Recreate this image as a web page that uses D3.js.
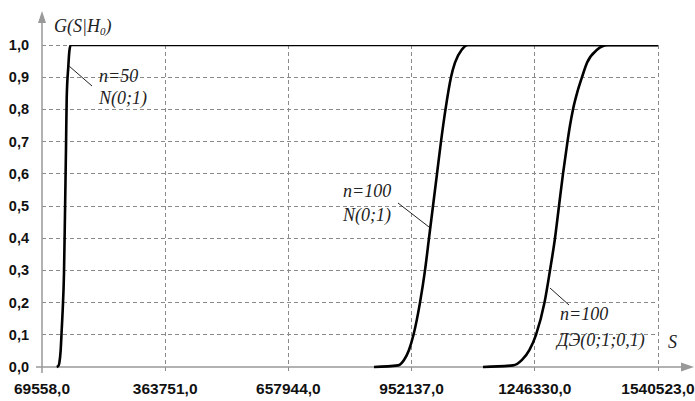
<!DOCTYPE html>
<html>
<head>
<meta charset="utf-8">
<script src="https://cdn.jsdelivr.net/npm/d3@7"></script>
<style>
  html, body { margin: 0; padding: 0; background: #fff; }
  svg { display: block; }
</style>
</head>
<body>
<svg id="chart" width="695" height="401"></svg>
<script>
// ---- data ----
const xTicks = [69558, 363751, 657944, 952137, 1246330, 1540523];
const yTicks = [0, 0.1, 0.2, 0.3, 0.4, 0.5, 0.6, 0.7, 0.8, 0.9, 1.0];

// n=50, N(0;1)
const sN50  = [104660, 108481, 110869, 114212, 116600, 118988, 122092, 124480, 126868, 128540, 132360, 134748, 138091, 1540523];
const gN50  = [0, 0.003, 0.012, 0.053, 0.115, 0.177, 0.292, 0.478, 0.68, 0.835, 0.933, 0.979, 1.0, 1.0];

// n=100, N(0;1)
const sN100 = [862341, 919650, 933978, 945917, 956663, 972184, 984124, 993675, 1003227, 1012779, 1022330, 1033076, 1046209, 1055761, 1071760, 1086803, 1540523];
const gN100 = [0, 0.005, 0.022, 0.053, 0.1, 0.2, 0.3, 0.4, 0.5, 0.6, 0.7, 0.8, 0.9, 0.945, 0.985, 1.0, 1.0];

// n=100, ДЭ(0;1;0,1)
const sDE   = [1122622, 1194259, 1215750, 1233659, 1249181, 1269478, 1282611, 1294551, 1304102, 1313654, 1324399, 1330369, 1337533, 1347085, 1359024, 1370963, 1394842, 1421109, 1540523];
const gDE   = [0, 0.005, 0.022, 0.053, 0.1, 0.2, 0.3, 0.4, 0.5, 0.6, 0.7, 0.75, 0.8, 0.85, 0.9, 0.945, 0.985, 1.0, 1.0];

const series = [
  { s: sN50,  g: gN50,  l1: "n=50",  l2: "N(0;1)" },
  { s: sN100, g: gN100, l1: "n=100", l2: "N(0;1)" },
  { s: sDE,   g: gDE,   l1: "n=100", l2: "ДЭ(0;1;0,1)" }
];

// ---- layout ----
const svg = d3.select("#chart");
const x = d3.scaleLinear().domain([69558, 1540523]).range([42, 658]);
const y = d3.scaleLinear().domain([0, 1]).range([367, 45]);

const gridColor = "#8a8a8a";
const axisColor = "#999";

svg.append("defs").append("clipPath").attr("id", "plotclip")
  .append("rect").attr("x", 40).attr("y", 45).attr("width", 620).attr("height", 330);

// horizontal grid
svg.append("g").selectAll("line").data(yTicks.filter(d => d > 0)).join("line")
  .attr("x1", x(xTicks[0])).attr("x2", x(xTicks[xTicks.length - 1]))
  .attr("y1", d => y(d)).attr("y2", d => y(d))
  .attr("stroke", gridColor).attr("stroke-width", 1)
  .attr("stroke-dasharray", "4,3")
  .attr("shape-rendering", "crispEdges");

// vertical grid
svg.append("g").selectAll("line").data(xTicks.slice(1)).join("line")
  .attr("x1", d => x(d)).attr("x2", d => x(d))
  .attr("y1", y(1)).attr("y2", y(0) + 6)
  .attr("stroke", gridColor).attr("stroke-width", 1)
  .attr("stroke-dasharray", "4,3")
  .attr("shape-rendering", "crispEdges");

// axes
svg.append("line").attr("x1", x(xTicks[0])).attr("x2", x(xTicks[0]))
  .attr("y1", y(0) + 6).attr("y2", 20)
  .attr("stroke", axisColor).attr("stroke-width", 1.5);
svg.append("path").attr("d", `M${x(xTicks[0])},11 L${x(xTicks[0]) - 4},23 L${x(xTicks[0]) + 4},23 Z`)
  .attr("fill", axisColor);
svg.append("line").attr("x1", 36).attr("x2", 684)
  .attr("y1", y(0)).attr("y2", y(0))
  .attr("stroke", axisColor).attr("stroke-width", 1.5);
svg.append("path").attr("d", `M694,${y(0)} L681,${y(0) - 4.5} L681,${y(0) + 4.5} Z`)
  .attr("fill", axisColor);

// tick labels
svg.append("g").selectAll("text").data(xTicks).join("text")
  .attr("x", d => x(d)).attr("y", 394)
  .attr("text-anchor", "middle")
  .attr("font-family", "'Liberation Sans', Arial, sans-serif")
  .attr("font-weight", "bold").attr("font-size", 15.5)
  .attr("fill", "#111")
  .text(d => d + ",0");

svg.append("g").selectAll("text").data(yTicks).join("text")
  .attr("x", 29).attr("y", d => y(d) + 5)
  .attr("text-anchor", "end")
  .attr("font-family", "'Liberation Sans', Arial, sans-serif")
  .attr("font-weight", "bold").attr("font-size", 14.5)
  .attr("fill", "#111")
  .text(d => d.toFixed(1).replace(".", ","));

// curves
const line = d3.line().x(d => x(d[0])).y(d => y(d[1])).curve(d3.curveMonotoneX);
const plot = svg.append("g").attr("clip-path", "url(#plotclip)");
series.forEach(sr => {
  const pts = sr.s.map((v, i) => [v, sr.g[i]]);
  plot.append("path").datum(pts).attr("d", line)
    .attr("fill", "none").attr("stroke", "#000").attr("stroke-width", 2.6)
    .attr("stroke-linejoin", "round");
});

// annotations
const fontSerif = "'Liberation Serif', 'Times New Roman', serif";
const labelColor = "#222";
const ann = [
  { tx: 99,  b1: 82,  b2: 104, lx1: 69,  ly1: 66,  lx2: 92,  ly2: 86 },
  { tx: 343, b1: 197, b2: 221, lx1: 398, ly1: 203, lx2: 429, ly2: 227 },
  { tx: 558, b1: 320, b2: 346, lx1: 550, ly1: 288, lx2: 569, ly2: 305 }
];
series.forEach((sr, i) => {
  const a = ann[i];
  svg.append("line").attr("x1", a.lx1).attr("y1", a.ly1).attr("x2", a.lx2).attr("y2", a.ly2)
    .attr("stroke", "#222").attr("stroke-width", 1);
  svg.append("text").attr("x", a.tx + (i === 2 ? 2 : 0)).attr("y", a.b1)
    .attr("font-family", fontSerif).attr("font-style", "italic").attr("font-size", 18)
    .attr("fill", labelColor).text(sr.l1);
  svg.append("text").attr("x", a.tx - (i === 2 ? 1 : 0)).attr("y", a.b2)
    .attr("font-family", fontSerif).attr("font-style", "italic").attr("font-size", 18)
    .attr("fill", labelColor).text(sr.l2);
});

// axis titles
const gt = svg.append("text").attr("x", 54).attr("y", 32)
  .attr("font-family", fontSerif).attr("font-style", "italic").attr("font-size", 18)
  .attr("fill", labelColor);
gt.append("tspan").text("G(S|H");
gt.append("tspan").attr("font-size", 11).attr("dy", 3).text("0");
gt.append("tspan").attr("dy", -3).text(")");

svg.append("text").attr("x", 668).attr("y", 348)
  .attr("font-family", fontSerif).attr("font-style", "italic").attr("font-size", 18)
  .attr("fill", labelColor).text("S");
</script>
</body>
</html>
